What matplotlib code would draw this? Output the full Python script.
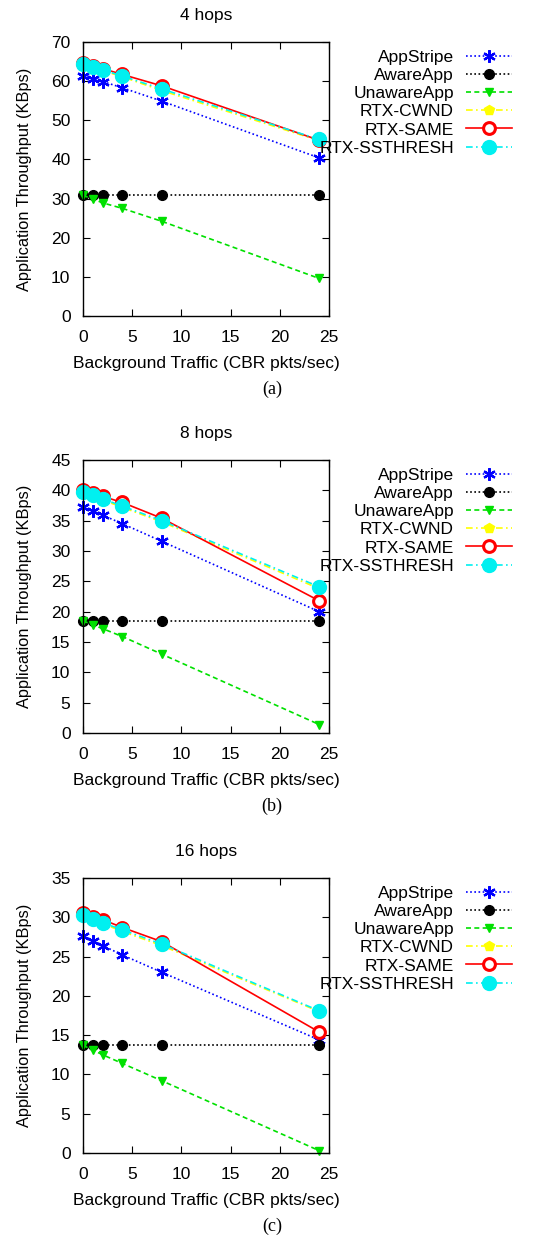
import matplotlib
matplotlib.use("Agg")
import matplotlib.pyplot as plt
import numpy as np

plt.rcParams["font.family"] = ["Liberation Sans", "DejaVu Sans"]
plt.rcParams["font.size"] = 12.5

traffic = [0, 1, 2, 4, 8, 24]
series_names = ["AppStripe", "AwareApp", "UnawareApp", "RTX-CWND", "RTX-SAME", "RTX-SSTHRESH"]
panel_titles = ["4 hops", "8 hops", "16 hops"]
panel_tags = ["(a)", "(b)", "(c)"]
y_max = [70, 45, 35]
y_step = [10, 5, 5]

hops4 = {
    "AppStripe": [61.4, 60.6, 59.9, 58.3, 54.9, 40.4],
    "AwareApp": [30.8, 30.8, 30.8, 30.8, 30.8, 30.8],
    "UnawareApp": [30.8, 29.9, 28.9, 27.5, 24.2, 9.6],
    "RTX-CWND": [64.2, 63.5, 62.7, 61.1, 57.6, 44.8],
    "RTX-SAME": [64.6, 63.9, 63.2, 61.7, 58.8, 44.9],
    "RTX-SSTHRESH": [64.3, 63.6, 62.9, 61.3, 58.0, 45.1],
}
hops8 = {
    "AppStripe": [37.2, 36.6, 35.9, 34.5, 31.6, 20.0],
    "AwareApp": [18.5, 18.5, 18.5, 18.5, 18.5, 18.5],
    "UnawareApp": [18.5, 17.8, 17.2, 15.9, 13.0, 1.4],
    "RTX-CWND": [39.6, 39.1, 38.4, 37.2, 34.8, 23.8],
    "RTX-SAME": [40.0, 39.5, 39.0, 38.0, 35.4, 21.8],
    "RTX-SSTHRESH": [39.7, 39.2, 38.6, 37.4, 35.0, 24.1],
}
hops16 = {
    "AppStripe": [27.6, 27.0, 26.4, 25.2, 23.0, 14.4],
    "AwareApp": [13.7, 13.7, 13.7, 13.7, 13.7, 13.7],
    "UnawareApp": [13.7, 13.1, 12.5, 11.4, 9.2, 0.3],
    "RTX-CWND": [30.2, 29.7, 29.2, 28.2, 26.4, 18.0],
    "RTX-SAME": [30.5, 30.1, 29.7, 28.7, 26.9, 15.4],
    "RTX-SSTHRESH": [30.3, 29.8, 29.3, 28.4, 26.6, 18.1],
}
panels = [hops4, hops8, hops16]

styles = {
    "AppStripe": dict(color="#0000ff", ls=(0, (1, 1.5)), marker=(6, 2, 0), ms=9, mew=1.6),
    "AwareApp": dict(color="black", ls=(0, (1, 1.5)), marker="o", ms=7),
    "UnawareApp": dict(color="#00e000", ls=(0, (3, 2)), marker="v", ms=6),
    "RTX-CWND": dict(color="#ffff00", ls=(0, (4, 2, 1, 2)), marker="p", ms=7),
    "RTX-SAME": dict(color="#ff0000", ls="-", marker="o", ms=8.5, mfc="white", mew=2.2),
    "RTX-SSTHRESH": dict(color="#00f0f0", ls=(0, (4, 2, 1, 2)), marker="o", ms=10),
}

fig = plt.figure(figsize=(5.4, 12.41), dpi=100)
W, H = 540, 1241
ax_left, ax_right = 83, 329
ax_tops = [42, 460, 878]
ax_bottoms = [316, 733, 1153]

for i, data in enumerate(panels):
    top, bot = ax_tops[i], ax_bottoms[i]
    ax = fig.add_axes([ax_left / W, 1 - bot / H, (ax_right - ax_left) / W, (bot - top) / H])
    for name in series_names:
        st = styles[name]
        ax.plot(traffic, data[name], lw=1.2, clip_on=False, label=name, **st)
    ax.set_xlim(0, 25)
    ax.set_ylim(0, y_max[i])
    ax.set_xticks(np.arange(0, 26, 5))
    ax.set_yticks(np.arange(0, y_max[i] + 1, y_step[i]))
    ax.tick_params(direction="in", top=True, right=True, length=5, width=0.8, labelsize=12.5)
    ax.tick_params(axis="x", pad=10)
    ax.tick_params(axis="y", pad=9)
    for sp in ax.spines.values():
        sp.set_linewidth(1.0)
    ax.set_title(panel_titles[i], fontsize=12.5, pad=16)
    ax.set_xlabel("Background Traffic (CBR pkts/sec)", fontsize=12.5, labelpad=8)
    ax.set_ylabel("Application Throughput (KBps)", fontsize=11.8, labelpad=14)
    ax.text(272 / W, 1 - (bot + 73) / H, panel_tags[i], transform=fig.transFigure,
            ha="center", va="center", family="Liberation Serif", fontsize=13)
    ax.legend(loc="upper right", bbox_to_anchor=(519 / W, 1 - (top + 1) / H),
              bbox_transform=fig.transFigure, frameon=False, markerfirst=False,
              handlelength=2.65, labelspacing=0.17, borderaxespad=0, handletextpad=0.7,
              numpoints=1, fontsize=12.5)

fig.savefig("out.png", dpi=100)
